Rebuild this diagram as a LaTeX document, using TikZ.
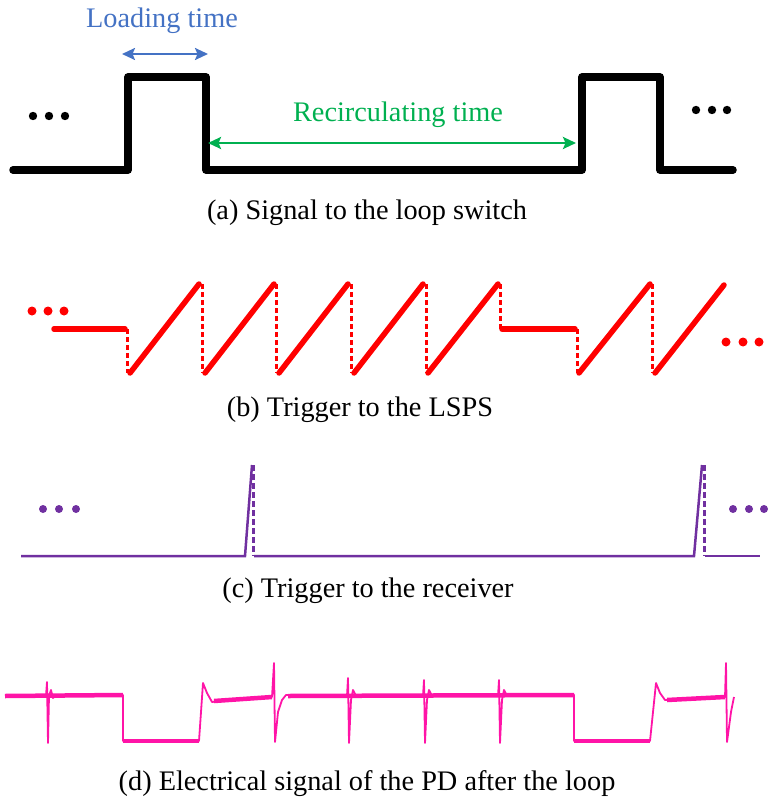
\documentclass[tikz,border=0pt]{standalone}
\usepackage{fontspec}
\setmainfont{Liberation Serif}
\usetikzlibrary{arrows.meta}
\definecolor{lblue}{HTML}{4472C4}
\definecolor{lgreen}{HTML}{00B050}
\definecolor{lpurple}{HTML}{7030A0}
\definecolor{lred}{RGB}{255,0,0}
\definecolor{lpink}{RGB}{255,20,167}
\begin{document}
\begin{tikzpicture}[x=1pt,y=-1pt,
  txt/.style={font=\fontsize{28.3}{31}\selectfont, anchor=base, inner sep=0pt},
  sigA/.style={line width=7.5pt, black, line join=round, line cap=round},
  sawline/.style={line width=5.5pt, lred, line cap=round},
  sawdash/.style={line width=3pt, lred, dash pattern=on 5pt off 3pt},
  recline/.style={line width=2.5pt, lpurple},
  recdash/.style={line width=3pt, lpurple, dash pattern=on 6pt off 3pt},
  pdthin/.style={line width=1.8pt, lpink, line join=round},
  pdthick/.style={line width=4.5pt, lpink},
  pdlow/.style={line width=4pt, lpink},
  dblarrow/.style={{Stealth[length=13pt,width=12pt,inset=2.5pt]}-{Stealth[length=13pt,width=12pt,inset=2.5pt]}},
]
\useasboundingbox (0,0) rectangle (768,799);

% ---------- (a) ----------
\draw[sigA] (13,170) -- (128,170) -- (128,77) -- (206,77) -- (206,170) -- (582,170) -- (582,77) -- (660,77) -- (660,170) -- (733,170);
\foreach \x in {33,49,65} \fill[black] (\x,116) circle (4.2pt);
\foreach \x in {696,712,727} \fill[black] (\x,110) circle (4.2pt);
\coordinate (la) at (122,54);
\coordinate (lb) at (208,54);
\draw[lblue, line width=2.3pt, dblarrow] (la) -- (lb);
\node[txt, text=lblue] (lt) at (162,28) {Loading time};
\coordinate (ra) at (208,143);
\coordinate (rb) at (576,143);
\draw[lgreen, line width=2.5pt, dblarrow] (ra) -- (rb);
\node[txt, text=lgreen] (rt) at (398,122) {Recirculating time};
\node[txt] (capa) at (367,220) {(a) Signal to the loop switch};

% ---------- (b) ----------
\foreach \x in {32,48,64} \fill[lred] (\x,311) circle (4.5pt);
\foreach \x in {726,743,759} \fill[lred] (\x,342) circle (4.5pt);
\draw[sawline] (54,329) -- (125,329);
\draw[sawdash] (127,329) -- (127,373);
\draw[sawline] (130,373) -- (199,284);
\draw[sawdash] (202,284) -- (202,373);
\draw[sawline] (205,373) -- (274,284);
\draw[sawdash] (276,284) -- (276,373);
\draw[sawline] (279,373) -- (348,284);
\draw[sawdash] (351,284) -- (351,373);
\draw[sawline] (354,373) -- (423,284);
\draw[sawdash] (426,284) -- (426,373);
\draw[sawline] (428,373) -- (498,284);
\draw[sawdash] (500,284) -- (500,329);
\draw[sawline] (502,329) -- (575,329);
\draw[sawdash] (577,329) -- (577,373);
\draw[sawline] (579,373) -- (650,284);
\draw[sawdash] (652,284) -- (652,373);
\draw[sawline] (655,373) -- (724,285);
\node[txt] (capb) at (360,416) {(b) Trigger to the LSPS};

% ---------- (c) ----------
\foreach \x in {43,59,76} \fill[lpurple] (\x,509) circle (4pt);
\foreach \x in {733,749,764} \fill[lpurple] (\x,509) circle (4pt);
\draw[recline] (21,556) -- (245,556) -- (252,465);
\draw[recdash] (253,465) -- (253,556);
\draw[recline] (254,556) -- (694,556) -- (702,465);
\draw[recdash] (704,465) -- (704,556);
\draw[recline] (705,556) -- (760,556);
\node[txt] (capc) at (368,597) {(c) Trigger to the receiver};

% ---------- (d) ----------
\draw[pdthick] (5,696) -- (123,695);
\draw[pdlow] (123,741) -- (199,741);
\draw[pdthick] (214,701) -- (272,697);
\draw[pdthick] (288,696) -- (574,695);
\draw[pdlow] (574,741) -- (650,741);
\draw[pdthick] (667,700) -- (725,697);
\draw[pdthin] (5,696) -- (46,696) -- (47,682) -- (48,743) -- (49,696) -- (51,690) -- (53,698) -- (56,695) -- (123,695)
  -- (123,741) -- (199,741) -- (203,683) -- (207,693) -- (212,702) -- (230,700) -- (272,697)
  -- (274,663) -- (275,742) -- (278,712) -- (282,700) -- (286,695) -- (347,696)
  -- (348,678) -- (349,743) -- (351,700) -- (353,690) -- (356,696) -- (423,696)
  -- (424,680) -- (425,743) -- (427,700) -- (429,690) -- (432,696) -- (498,696)
  -- (499,680) -- (500,743) -- (502,700) -- (504,690) -- (507,696) -- (574,695)
  -- (574,741) -- (650,741) -- (656,683) -- (660,693) -- (665,700) -- (700,699) -- (725,697)
  -- (726,663) -- (727,742) -- (731,712) -- (734,697);
\node[txt] (capd) at (367,790) {(d) Electrical signal of the PD after the loop};
\end{tikzpicture}
\end{document}
